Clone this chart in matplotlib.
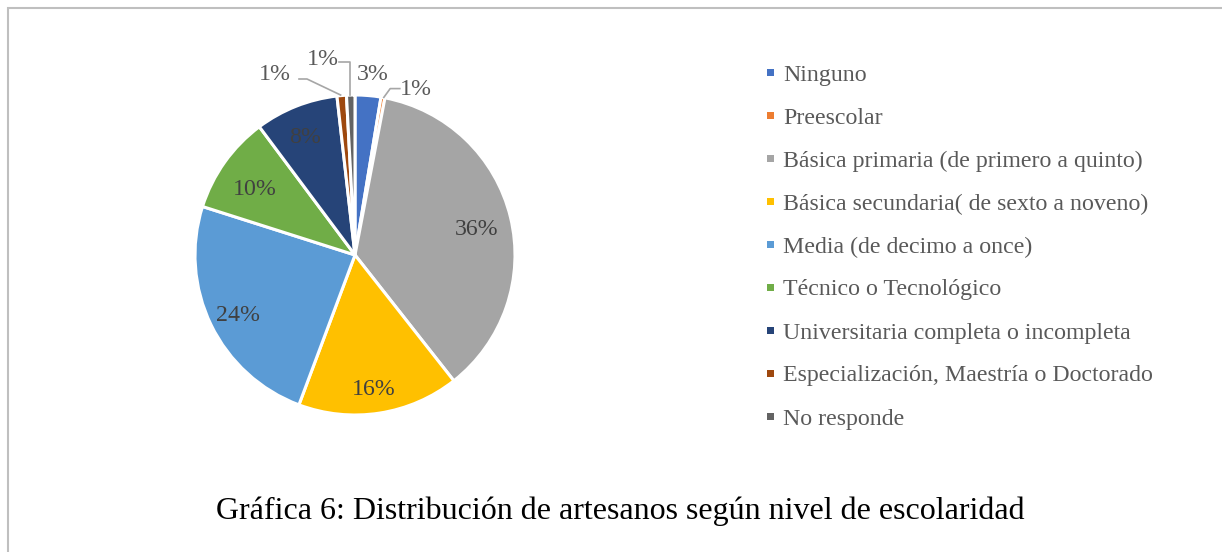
import matplotlib
matplotlib.use("Agg")
import matplotlib.pyplot as plt
import numpy as np
from matplotlib.patches import Rectangle
from matplotlib.lines import Line2D

W, H = 1222, 552

categories = [
    "Ninguno",
    "Preescolar",
    "Básica primaria (de primero a quinto)",
    "Básica secundaria( de sexto a noveno)",
    "Media (de decimo a once)",
    "Técnico o Tecnológico",
    "Universitaria completa o incompleta",
    "Especialización, Maestría o Doctorado",
    "No responde",
]
values = [2.6, 0.4, 36.4, 16.3, 24.2, 9.9, 8.4, 0.95, 0.85]
labels = ["3%", "1%", "36%", "16%", "24%", "10%", "8%", "1%", "1%"]
colors = ["#4472C4", "#ED7D31", "#A5A5A5", "#FFC000", "#5B9BD5",
          "#70AD47", "#264478", "#9E480E", "#636363"]
title = "Gráfica 6: Distribución de artesanos según nivel de escolaridad"

plt.rcParams['font.family'] = ['Liberation Serif', 'DejaVu Serif']
txt_col = "#595959"

fig = plt.figure(figsize=(W / 100, H / 100), dpi=100)

# border (only left/top visible in reference)
fig.add_artist(Rectangle((8 / W, -0.1), 1.2, 1.1 - 8 / H, transform=fig.transFigure,
                         fill=False, edgecolor="#BFBFBF", linewidth=1.5))

cx, cy, r = 355, 255, 160
ax = fig.add_axes([(cx - r) / W, 1 - (cy + r) / H, 2 * r / W, 2 * r / H])

wedges, _ = ax.pie(values, colors=colors, startangle=90, counterclock=False, radius=1,
                   wedgeprops=dict(edgecolor="white", linewidth=2.2))
ax.set_xlim(-1, 1)
ax.set_ylim(-1, 1)
ax.axis("off")

fs = 17.2
# inside labels for big slices
radii = {2: 0.79, 3: 0.82, 4: 0.8, 5: 0.76, 6: 0.82}
for i, rr in radii.items():
    w = wedges[i]
    a = np.deg2rad((w.theta1 + w.theta2) / 2)
    ax.text(rr * np.cos(a) - 0.01, rr * np.sin(a) - 0.03, labels[i], ha="center", va="center",
            fontsize=fs, color="#404040")

# outside labels for small slices
lc = "#A6A6A6"
ax.text(0.11, 1.125, labels[0], ha="center", va="center", fontsize=fs, color=txt_col)
ax.text(0.38, 1.035, labels[1], ha="center", va="center", fontsize=fs, color=txt_col)
ax.add_line(Line2D([0.18, 0.22, 0.28], [0.985, 1.04, 1.04], color=lc, lw=1.2, clip_on=False))
ax.text(-0.5, 1.125, labels[7], ha="center", va="center", fontsize=fs, color=txt_col)
ax.add_line(Line2D([-0.35, -0.30, -0.09], [1.1, 1.1, 1.0], color=lc, lw=1.2, clip_on=False))
ax.text(-0.2, 1.22, labels[8], ha="center", va="center", fontsize=fs, color=txt_col)
ax.add_line(Line2D([-0.10, -0.03, -0.03], [1.205, 1.205, 1.0], color=lc, lw=1.2, clip_on=False))

# legend
y0, dy = 72, 43
for i, (cat, col) in enumerate(zip(categories, colors)):
    y = y0 + i * dy
    fig.add_artist(Rectangle((767 / W, 1 - (y + 4) / H), 7 / W, 7 / H,
                             transform=fig.transFigure, facecolor=col, edgecolor="none"))
    fig.text(783 / W, 1 - (y + 3) / H, cat, ha="left", va="center", fontsize=fs, color=txt_col)

fig.text(620 / W, 1 - 511 / H, title, ha="center", va="center", fontsize=23, color="black")

fig.savefig("out.png", dpi=100)
